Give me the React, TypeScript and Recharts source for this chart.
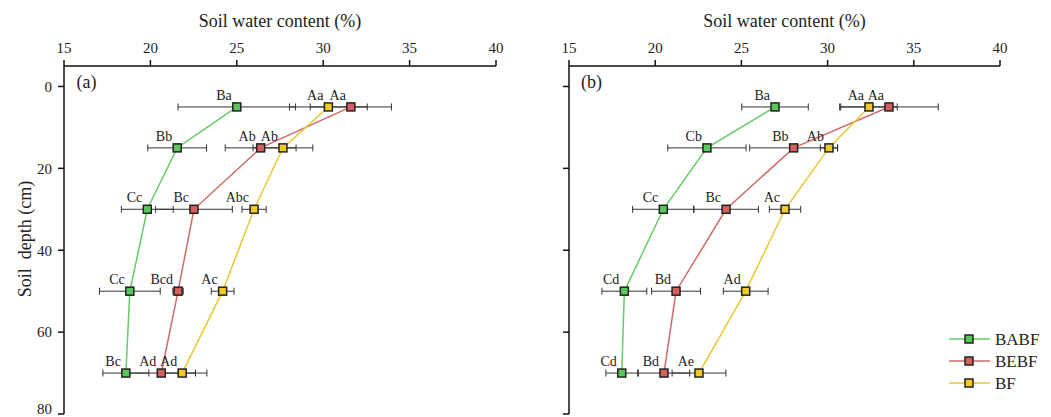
import React from 'react';
import { ScatterChart, Scatter, XAxis, YAxis, ErrorBar, Legend, Label } from 'recharts';

const depths = [5, 15, 30, 50, 70];
const seriesNames = ['BABF', 'BEBF', 'BF'];
const xTicks = [15, 20, 25, 30, 35, 40];
const yTicks = [0, 20, 40, 60, 80];

// Panel (a)
const aBABF = [25.0, 21.55, 19.82, 18.81, 18.58];
const aBABFErr = [3.4, 1.7, 1.5, 1.76, 1.33];
const aBABFLab = ['Ba', 'Bb', 'Cc', 'Cc', 'Bc'];
const aBEBF = [31.6, 26.38, 22.52, 21.6, 20.63];
const aBEBFErr = [2.35, 2.05, 2.22, 0.3, 1.98];
const aBEBFLab = ['Aa', 'Ab', 'Bc', 'Bcd', 'Ad'];
const aBF = [30.3, 27.67, 26.0, 24.18, 21.84];
const aBFErr = [2.25, 1.73, 0.7, 0.66, 1.43];
const aBFLab = ['Aa', 'Ab', 'Abc', 'Ac', 'Ad'];

// Panel (b)
const bBABF = [26.95, 23.0, 20.47, 18.21, 18.06];
const bBABFErr = [1.93, 2.27, 1.78, 1.3, 0.92];
const bBABFLab = ['Ba', 'Cb', 'Cc', 'Cd', 'Cd'];
const bBEBF = [33.56, 28.03, 24.11, 21.21, 20.51];
const bBEBFErr = [2.86, 2.55, 1.88, 1.42, 1.49];
const bBEBFLab = ['Aa', 'Bb', 'Bc', 'Bd', 'Bd'];
const bBF = [32.4, 30.08, 27.53, 25.25, 22.54];
const bBFErr = [1.64, 0.5, 0.91, 1.3, 1.56];
const bBFLab = ['Aa', 'Ab', 'Ac', 'Ad', 'Ae'];

const FONT = '"Liberation Serif", "Times New Roman", serif';
const TEXT = '#222';

const COLORS: Record<string, { fill: string; line: string }> = {
  BABF: { fill: '#58c858', line: '#66cc66' },
  BEBF: { fill: '#d65e5e', line: '#d26a6a' },
  BF: { fill: '#f0cc22', line: '#e8c832' },
};

const build = (vals: number[], errs: number[], labs: string[]) =>
  depths.map((d, i) => ({ x: vals[i], depth: d, err: errs[i], lab: labs[i] }));

const panelA = [build(aBABF, aBABFErr, aBABFLab), build(aBEBF, aBEBFErr, aBEBFLab), build(aBF, aBFErr, aBFLab)];
const panelB = [build(bBABF, bBABFErr, bBABFLab), build(bBEBF, bBEBFErr, bBEBFLab), build(bBF, bBFErr, bBFLab)];

const makeShape = (name: string) => (props: any) => {
  const { cx, cy, payload } = props;
  if (cx == null || cy == null) return <g />;
  return (
    <g>
      <rect x={cx - 4} y={cy - 4} width={8} height={8} fill={COLORS[name].fill} stroke="#222" strokeWidth={1.5} />
      <text x={cx - 5} y={cy - 7} textAnchor="end" fontSize={14} fontFamily={FONT} fill={TEXT}>
        {payload.lab}
      </text>
    </g>
  );
};

const renderLegend = (props: any) => {
  const payload = props.payload || [];
  return (
    <svg width={110} height={70}>
      {payload.map((e: any, i: number) => {
        const name = e.value as string;
        const c = COLORS[name] || { fill: '#999', line: '#999' };
        const y = 11 + 22 * i;
        return (
          <g key={name}>
            <line x1={0} x2={41} y1={y} y2={y} stroke={c.line} strokeWidth={1.5} />
            <rect x={16} y={y - 4} width={8} height={8} fill={c.fill} stroke="#222" strokeWidth={1.5} />
            <text x={46} y={y + 6} fontSize={17} fontFamily={FONT} fill={TEXT}>
              {name}
            </text>
          </g>
        );
      })}
    </svg>
  );
};

const Panel = ({ data, tag, showYLabels, left, width, yAxisWidth, rightMargin, withLegend }: any) => {
  const yLabelContent = () => (
    <g>
      {showYLabels && (
        <text
          x={25}
          y={239}
          transform="rotate(-90 25 239)"
          textAnchor="middle"
          dominantBaseline="central"
          fontSize={18}
          fontFamily={FONT}
          fill={TEXT}
        >
          {'Soil\u00a0 depth (cm)'}
        </text>
      )}
      <text x={yAxisWidth + 22.5} y={88} textAnchor="middle" fontSize={18} fontFamily={FONT} fill={TEXT}>
        {tag}
      </text>
    </g>
  );
  return (
    <div style={{ position: 'absolute', left, top: 0 }}>
      <ScatterChart width={width} height={417} margin={{ top: 32, right: rightMargin, bottom: 3, left: 0 }}>
        <XAxis
          type="number"
          dataKey="x"
          orientation="top"
          domain={[15, 40]}
          ticks={xTicks}
          allowDataOverflow
          height={34}
          tickSize={6}
          tickMargin={7}
          stroke="#111"
          strokeWidth={1.5}
          tick={{ fontSize: 15, fontFamily: FONT, fill: TEXT }}
          label={{ value: 'Soil water content (%)', position: 'top', offset: 5, fontSize: 18, fontFamily: FONT, fill: TEXT }}
        />
        <YAxis
          type="number"
          dataKey="depth"
          domain={[-5, 80]}
          ticks={yTicks}
          reversed
          allowDataOverflow
          width={yAxisWidth}
          tickSize={6}
          tickMargin={6}
          stroke="#111"
          strokeWidth={1.5}
          tickFormatter={(v: number) => (showYLabels ? String(v) : '')}
          tick={{ fontSize: 15, fontFamily: FONT, fill: TEXT }}
        >
          <Label content={yLabelContent} />
        </YAxis>
        {seriesNames.map((name, si) => (
          <Scatter
            key={name}
            name={name}
            data={data[si]}
            fill={COLORS[name].fill}
            line={{ stroke: COLORS[name].line, strokeWidth: 1.5 }}
            lineType="joint"
            shape={makeShape(name)}
            isAnimationActive={false}
          >
            <ErrorBar dataKey="err" direction="x" width={3.5} stroke="#333" strokeWidth={1} />
          </Scatter>
        ))}
        {withLegend && (
          <Legend
            layout="vertical"
            align="center"
            verticalAlign="middle"
            wrapperStyle={{ left: 419, top: 328, width: 110, height: 70 }}
            content={renderLegend}
          />
        )}
      </ScatterChart>
    </div>
  );
};

export default function App() {
  return (
    <div style={{ position: 'absolute', left: 0, top: 0, width: 1051, height: 417, background: '#fff', overflow: 'hidden' }}>
      <Panel data={panelA} tag="(a)" showYLabels left={0} width={530} yAxisWidth={64} rightMargin={34} withLegend={false} />
      <Panel data={panelB} tag="(b)" showYLabels={false} left={530} width={521} yAxisWidth={39} rightMargin={51} withLegend />
    </div>
  );
}
